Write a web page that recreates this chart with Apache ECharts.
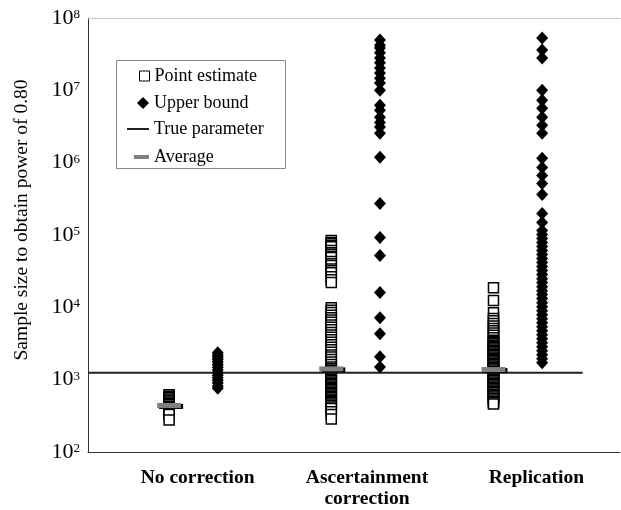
<!DOCTYPE html>
<html><head><meta charset="utf-8">
<script src="https://cdn.jsdelivr.net/npm/echarts@6/dist/echarts.min.js"></script>
<style>html,body{margin:0;padding:0;background:#fff}#c{width:621px;height:510px}</style>
</head><body><div id="c"></div>
<script>
// ---- data ----
const categories = ['No correction', 'Ascertainment\ncorrection', 'Replication'];
const yAxisTitle = 'Sample size to obtain power of 0.80';
const trueParameter = 1250;
const averages = [440, 1410, 1380];

const noCorrectionPE = [617, 590, 564, 539, 515, 493, 471, 450, 430, 411, 393, 376, 359, 343, 330, 277];
const noCorrectionUB = [2350, 2180, 2020, 1900, 1750, 1610, 1480, 1360, 1250, 1150, 1060, 980, 900, 820, 760];

const ascertainmentPE = [84000, 79000, 76000, 72000, 69000, 61000, 57000, 54000, 51000, 49000, 43000, 40000, 38000,
  34000, 32000, 30000, 26500, 24000, 22000,
  9900, 9100, 8500, 7800, 7200, 6700, 6200, 5700, 5300, 4900, 4500, 4150, 3850, 3550, 3300, 3050, 2800, 2600,
  2400, 2200, 2050, 1900, 1750, 1620, 1500, 1410,
  1350, 1300, 1245, 1195, 1145, 1100, 1055, 1010, 970, 930, 890, 855, 820, 785, 755, 725, 695, 665, 640, 615,
  590, 565, 540, 520, 500, 480, 460, 440, 420, 400, 360, 330, 287];
const ascertainmentUB = [49500000, 42000000, 38400000, 33000000, 28000000, 24000000, 20300000, 17300000, 14700000,
  12600000, 10000000, 6200000, 5300000, 4250000, 3600000, 3100000, 2550000, 1190000, 273000, 92000, 52000,
  16000, 7200, 4300, 2070, 1500];

const replicationPE = [18700, 12400, 8430, 7000, 6500, 6000, 5500, 5100, 4750, 4400, 4100, 3800, 3500,
  3400, 3260, 3130, 3000, 2880, 2760, 2650, 2540, 2440, 2340, 2240, 2150, 2060, 1980, 1900, 1820, 1750, 1680,
  1610, 1545, 1480, 1420, 1360, 1300, 1250, 1200, 1150, 1100, 1055, 1010, 970, 930, 890, 850, 815, 780, 750,
  720, 690, 660, 630, 600, 575, 550, 525, 500, 480, 462];
const replicationUB = [52800000, 36000000, 27900000, 10000000, 7300000, 5660000, 4250000, 3290000, 2550000, 1150000,
  860000, 667000, 517000, 364000, 199000, 149000, 115000, 102000, 89400, 78700, 69300, 61000, 53700, 47200, 41600,
  36600, 32200, 28400, 24900, 22000, 19300, 17000, 15000, 13200, 11600, 10200, 8990, 7910, 6970, 6130, 5400, 4750,
  4180, 3680, 3240, 2850, 2510, 2210, 1940, 1710];

// ---- build ----
const peGroups = [noCorrectionPE, ascertainmentPE, replicationPE];
const ubGroups = [noCorrectionUB, ascertainmentUB, replicationUB];
const PE_OFF = 0.5, UB_OFF = 0.8;
const peData = [], ubData = [], avgData = [];
peGroups.forEach((g, i) => g.forEach(v => peData.push([i + PE_OFF, v])));
ubGroups.forEach((g, i) => g.forEach(v => ubData.push([i + UB_OFF, v])));
averages.forEach((v, i) => avgData.push([i + PE_OFF, v]));

const FONT = 'Liberation Serif';
const legendText = {fontFamily: FONT, fontSize: 18, color: '#000', lineHeight: 20};

const chart = echarts.init(document.getElementById('c'), null, {renderer: 'canvas'});
chart.setOption({
  animation: false,
  backgroundColor: '#fff',
  grid: [
    {left: 88, right: 1, top: 18, bottom: 58},
    {left: 113, width: 513, top: 18, bottom: 58}
  ],
  xAxis: [
    {type: 'value', gridIndex: 0, min: 0, max: 3.28, axisLine: {lineStyle: {color: '#333', width: 1}},
     axisTick: {show: false}, axisLabel: {show: false}, splitLine: {show: false}},
    {type: 'value', gridIndex: 0, position: 'top', min: 0, max: 3.28, axisLine: {show: true, lineStyle: {color: '#c8c8c8', width: 1}},
     axisTick: {show: false}, axisLabel: {show: false}, splitLine: {show: false}},
    {type: 'category', gridIndex: 1, data: categories, axisLine: {show: false}, axisTick: {show: false},
     axisLabel: {interval: 0, margin: 15, fontFamily: FONT, fontWeight: 'bold', fontSize: 19.5, lineHeight: 21, color: '#000'}}
  ],
  yAxis: [
    {type: 'log', gridIndex: 0, min: 100, max: 100000000, logBase: 10,
     axisLine: {show: true, lineStyle: {color: '#333', width: 1}}, axisTick: {show: false}, splitLine: {show: false},
     axisLabel: {margin: 8, formatter: v => '{b|10}{s|' + Math.round(Math.log10(v)) + '}',
       rich: {b: {fontFamily: FONT, fontSize: 22, lineHeight: 22, color: '#000'},
              s: {fontFamily: FONT, fontSize: 13, lineHeight: 13, verticalAlign: 'top', color: '#000', padding: [1, 0, 0, 0]}}}},
    {type: 'value', gridIndex: 1, show: false}
  ],
  legend: [
    {data: [{name: 'Point estimate', icon: 'rect', itemStyle: {borderWidth: 1}}], left: 139, top: 66, itemWidth: 10, itemHeight: 10, padding: 0, selectedMode: false, textStyle: legendText},
    {data: [{name: 'Upper bound', icon: 'diamond'}], left: 137, top: 93, itemWidth: 12, itemHeight: 12, padding: 0, selectedMode: false, textStyle: legendText},
    {data: [{name: 'True parameter', icon: 'rect', itemStyle: {color: '#222', borderWidth: 0}}], left: 127, top: 119, itemWidth: 22, itemHeight: 2, padding: 0, selectedMode: false, textStyle: legendText},
    {data: [{name: 'Average', icon: 'rect'}], left: 134, top: 147, itemWidth: 15, itemHeight: 4, padding: 0, selectedMode: false, textStyle: legendText}
  ],
  graphic: [
    {type: 'rect', shape: {x: 116.5, y: 60.5, width: 169, height: 108}, style: {fill: null, stroke: '#888', lineWidth: 1}, z: 1},
    {type: 'text', x: 22, y: 220, rotation: Math.PI / 2,
     style: {text: yAxisTitle, fontFamily: FONT, fontSize: 19.5, fill: '#000', align: 'center', verticalAlign: 'middle'}}
  ],
  series: [
    {name: 'True parameter', type: 'line', xAxisIndex: 0, yAxisIndex: 0, data: [[0, trueParameter], [3.05, trueParameter]],
     symbol: 'none', lineStyle: {color: '#222', width: 2}, itemStyle: {color: '#222'}, z: 1, silent: true},
    {name: 'Point estimate', type: 'scatter', xAxisIndex: 0, yAxisIndex: 0, data: peData, symbol: 'rect', symbolSize: 10,
     itemStyle: {color: '#fff', borderColor: '#000', borderWidth: 1.5, opacity: 1}, z: 2, silent: true},
    {name: 'Upper bound', type: 'scatter', xAxisIndex: 0, yAxisIndex: 0, data: ubData, symbol: 'diamond', symbolSize: [12, 13],
     itemStyle: {color: '#000', opacity: 1}, z: 2, silent: true},
    {name: 'Average', type: 'scatter', xAxisIndex: 0, yAxisIndex: 0, data: avgData, symbol: 'rect', symbolSize: [24, 5],
     itemStyle: {color: '#808080', opacity: 1, shadowColor: '#000', shadowBlur: 0, shadowOffsetX: 2, shadowOffsetY: 1}, z: 3, silent: true}
  ]
});
</script></body></html>
